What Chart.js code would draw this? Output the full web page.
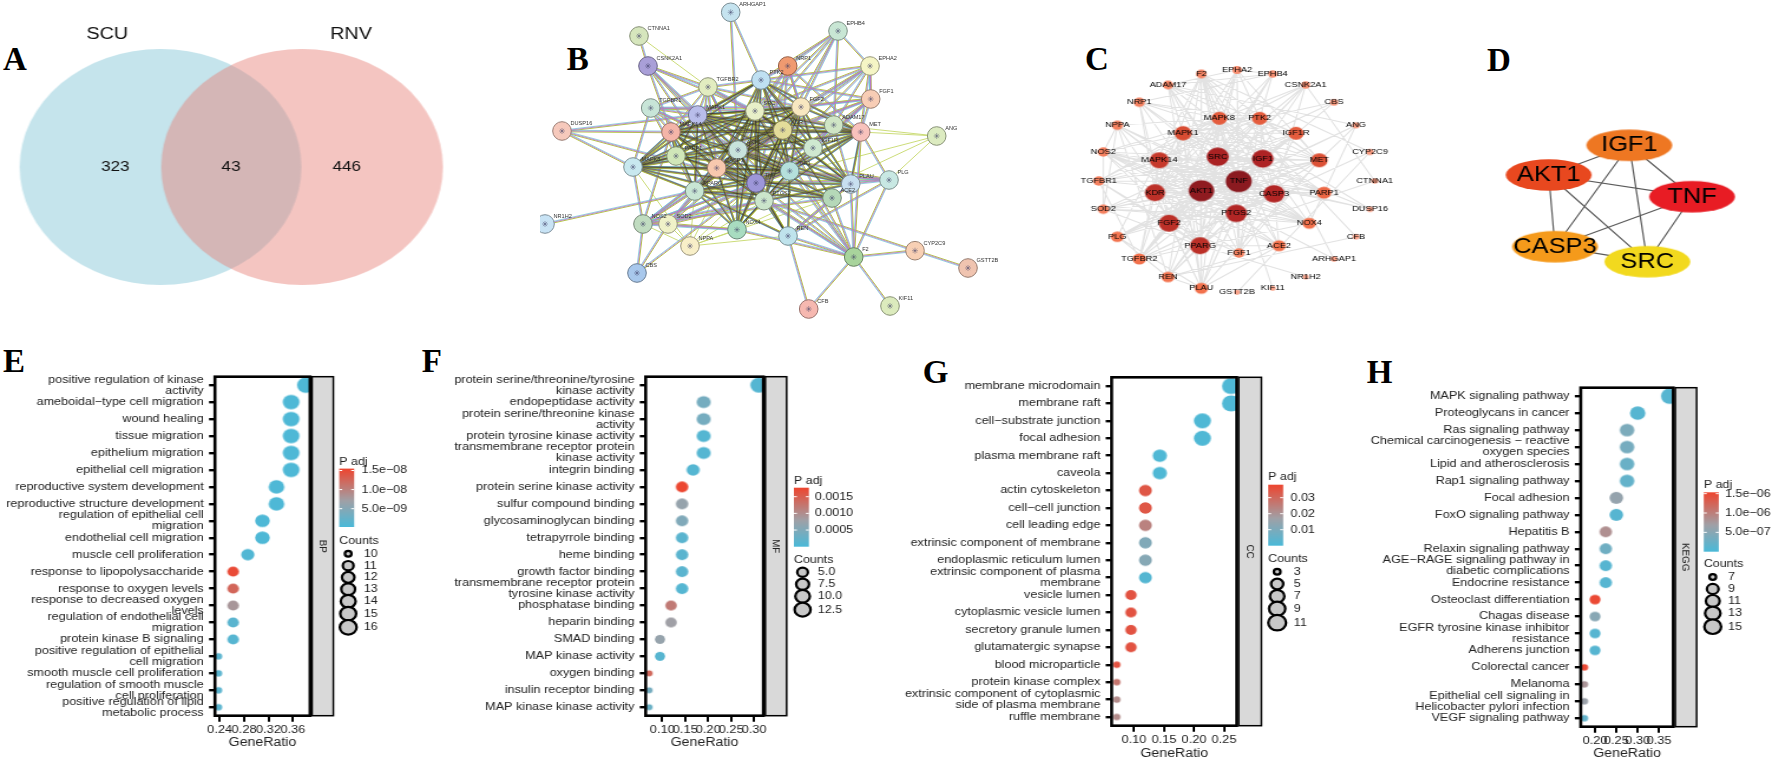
<!DOCTYPE html>
<html>
<head>
<meta charset="utf-8">
<title>PPI network and enrichment panels</title>
<script src="https://cdn.jsdelivr.net/npm/chart.js@4"></script>
<style>
  html, body { margin: 0; width: 1772px; height: 760px; overflow: hidden; background: #fff; }
  canvas { position: absolute; }
  .letter { position: absolute; font: bold 33px/1 "Liberation Serif", serif; color: #000; }
</style>
</head>
<body>
<div class="letter" style="left:3px;top:43.4px">A</div>
<div class="letter" style="left:566.7px;top:43.4px">B</div>
<div class="letter" style="left:1085px;top:43.4px">C</div>
<div class="letter" style="left:1487px;top:44.4px">D</div>
<div class="letter" style="left:3px;top:345.4px">E</div>
<div class="letter" style="left:421.7px;top:345.4px">F</div>
<div class="letter" style="left:922.7px;top:356.4px">G</div>
<div class="letter" style="left:1366.7px;top:356.4px">H</div>
<script>
// ---- Venn (A)
const vennSets = ["SCU", "RNV"];
const vennCounts = [323, 43, 446];

// ---- PPI network (B, C): every array follows the order of ppiNames
const ppiNames = ["TNF", "AKT1", "SRC", "IGF1", "CASP3", "PTGS2", "KDR", "FGF2", "PPARG", "MAPK14", "MAPK1", "MET", "MAPK8", "PTK2", "IGF1R", "PARP1", "NOX4", "ACE2", "PLAU", "REN", "TGFBR2", "PLG", "FGF1", "NRP1", "NPPA", "NOS2", "TGFBR1", "SOD2", "F2", "ADAM17", "EPHA2", "EPHB4", "CSNK2A1", "CBS", "ANG", "CYP2C9", "CTNNA1", "DUSP16", "CFB", "ARHGAP1", "NR1H2", "KIF11", "GSTT2B"];
const ppiLinks = [
  "TNF AKT1 SRC IGF1 CASP3 PTGS2 KDR FGF2 PPARG MAPK14 MAPK1 MET MAPK8 PTK2 IGF1R PARP1 NOX4 ACE2 PLAU REN TGFBR2 PLG FGF1 NOS2 TGFBR1 SOD2 F2 ADAM17 NRP1 EPHA2 CSNK2A1 CBS DUSP16",
  "AKT1 SRC IGF1 CASP3 PTGS2 KDR FGF2 PPARG MAPK14 MAPK1 MET MAPK8 PTK2 IGF1R PARP1 NOX4 ACE2 PLAU REN TGFBR2 PLG FGF1 NOS2 TGFBR1 SOD2 F2 ADAM17 NRP1 EPHA2 EPHB4 CSNK2A1 ARHGAP1",
  "SRC IGF1 CASP3 PTGS2 KDR FGF2 PPARG MAPK14 MAPK1 MET MAPK8 PTK2 IGF1R PARP1 NOX4 PLAU TGFBR2 FGF1 TGFBR1 F2 ADAM17 NRP1 EPHA2 EPHB4 CSNK2A1",
  "IGF1 CASP3 PTGS2 KDR FGF2 PPARG MAPK14 MAPK1 MET MAPK8 PTK2 IGF1R PARP1 NOX4 PLAU REN PLG FGF1 NOS2 TGFBR1 SOD2 F2 ADAM17",
  "CASP3 PTGS2 KDR FGF2 PPARG MAPK14 MAPK1 MAPK8 PTK2 PARP1 NOX4 ACE2 PLG NOS2 SOD2 F2 CSNK2A1 TGFBR2",
  "PTGS2 KDR FGF2 PPARG MAPK14 MAPK1 MET MAPK8 NOX4 PLAU REN TGFBR2 FGF1 NOS2 SOD2 F2 ADAM17 CYP2C9",
  "KDR FGF2 PPARG MAPK14 MAPK1 MET MAPK8 PTK2 IGF1R NOS2 PLAU FGF1 TGFBR2 NRP1 EPHA2 EPHB4 SOD2 NOX4 ACE2 F2",
  "FGF2 PPARG MAPK14 MAPK1 MET MAPK8 PTK2 IGF1R PLAU TGFBR2 TGFBR1 FGF1 NRP1 EPHB4 EPHA2",
  "PPARG MAPK14 MAPK1 MAPK8 NOX4 ACE2 REN NOS2 SOD2 TGFBR1 TGFBR2 NR1H2",
  "MAPK14 MAPK1 MAPK8 PTK2 MET PARP1 NOX4 TGFBR1 TGFBR2 DUSP16 CSNK2A1 NOS2",
  "MAPK1 MAPK8 PTK2 IGF1R MET PARP1 TGFBR1 TGFBR2 DUSP16 CSNK2A1 PLAU",
  "MAPK8 PTK2 PARP1 TGFBR1 DUSP16 NOS2",
  "PTK2 IGF1R MET PLAU EPHA2 EPHB4 NRP1 FGF1 ARHGAP1 TGFBR2",
  "IGF1R MET NRP1 ADAM17 FGF1",
  "MET PLAU ADAM17 EPHA2 FGF1 NRP1 F2 PLG",
  "PLAU PLG F2 REN ADAM17 ACE2",
  "F2 PLG REN CFB KIF11 CYP2C9 ACE2 NOX4",
  "REN ACE2 CFB PLG",
  "ACE2 NOS2",
  "NOS2 SOD2 NOX4 CBS",
  "SOD2 NOX4 CBS",
  "EPHA2 EPHB4 FGF1 ADAM17",
  "EPHB4 ADAM17",
  "TGFBR1 TGFBR2",
  "CSNK2A1 CTNNA1 TGFBR2",
  "CYP2C9 GSTT2B",
  "NRP1 EPHB4"
];
// Links that show only the thin text-mining colour in the STRING picture
const ppiWeakLinks = [
  "CTNNA1 TGFBR2",
  "ANG MET TNF ADAM17 PLG NOX4",
  "NPPA TNF AKT1 PTGS2 PPARG REN ACE2 NOS2 SOD2 NOX4 MAPK8"
];
const stringX = [756, 738, 755, 789.7, 716.7, 764, 782.7, 801, 694.7, 671, 697.7, 860.7, 633, 761, 813, 676, 737, 832, 850.7, 788, 708, 889, 870.7, 787.7, 690, 643, 650.7, 668, 853.7, 833.7, 870, 838, 648, 637, 936.7, 915, 639, 562, 808.7, 730.7, 545, 890, 968];
const stringY = [183, 150, 111, 171, 168, 200.7, 130, 107, 191, 132, 115, 132, 167, 80, 148, 156, 229.7, 198, 184, 236, 87, 180, 99, 66, 246, 224, 108, 224, 257, 125, 66, 31, 66, 273, 136, 250.7, 36, 131, 309, 12.3, 224, 306, 268];
const stringFill = ["#9d96d8", "#c8e3dc", "#e8f0c8", "#b5e0dc", "#f8c8ae", "#cbe5cb", "#e3dc9a", "#f8e7c0", "#c8e6d4", "#f4b5a8", "#b8bdea", "#f8c2bc", "#c8e8ef", "#bfe0f2", "#cfe8d0", "#d0e6b8", "#a8dcc0", "#b5d8b8", "#c8e0f0", "#bfe3ec", "#e2ecc0", "#c8e8e3", "#f8cdb5", "#f09a70", "#f8efc8", "#c0dcc0", "#c8e5d8", "#f0f2c8", "#a8d49c", "#cfe5c5", "#f5f5c5", "#c8e6d4", "#a99fd8", "#a8c8ec", "#dcebc0", "#f8d0b4", "#d6e6bd", "#f6c9bc", "#f6b8b0", "#c5e3ef", "#c8e3f5", "#dcebbd", "#f0c4b0"];
const cytoX = [1238.7, 1201.3, 1217.7, 1262.7, 1274, 1236.3, 1155, 1169, 1200, 1159.3, 1183, 1319.3, 1219.3, 1259.7, 1296, 1324, 1309.3, 1279, 1201.3, 1168, 1139.3, 1117.3, 1239, 1139.3, 1117.3, 1103.3, 1098.7, 1103.3, 1201.3, 1168, 1237, 1272.7, 1305.7, 1334, 1356, 1370, 1374.7, 1370, 1356, 1334, 1305.7, 1272.7, 1237];
const cytoY = [181.3, 190.7, 156.7, 158.7, 193.7, 213.3, 192.7, 223.3, 245.7, 160.3, 133.3, 160.3, 118.3, 118.3, 133.3, 192.7, 223.3, 245.7, 288.3, 277, 259, 236.7, 253, 102.3, 125.3, 152, 181, 209.3, 74, 85, 70, 74, 85, 102.3, 125.3, 152, 181, 209.3, 236.7, 259, 277, 288.3, 292.3];
const cytoDegree = [38, 37, 30, 29, 28, 28, 26, 26, 26, 24, 20, 19, 17, 17, 17, 15, 13, 13, 13, 12, 13, 12, 9, 9, 9, 9, 9, 9, 8, 8, 6, 5, 5, 4, 3, 3, 2, 2, 2, 2, 1, 1, 1];

// ---- Hub genes (D)
const hubNames = ["IGF1", "AKT1", "TNF", "CASP3", "SRC"];
const hubX = [1629.3, 1548.7, 1692, 1555, 1647.3];
const hubY = [145.3, 175, 196.7, 246.7, 261.7];
const hubFill = ["#ee7722", "#e8481f", "#e81c24", "#f59a1b", "#f2d91e"];

// ---- GO BP (E)
const bpTerms = [["positive regulation of kinase", "activity"], "ameboidal−type cell migration", "wound healing", "tissue migration", "epithelium migration", "epithelial cell migration", "reproductive system development", "reproductive structure development", ["regulation of epithelial cell", "migration"], "endothelial cell migration", "muscle cell proliferation", "response to lipopolysaccharide", "response to oxygen levels", ["response to decreased oxygen", "levels"], ["regulation of endothelial cell", "migration"], "protein kinase B signaling", ["positive regulation of epithelial", "cell migration"], "smooth muscle cell proliferation", ["regulation of smooth muscle", "cell proliferation"], ["positive regulation of lipid", "metabolic process"]];
const bpRatio = [0.381, 0.357, 0.357, 0.357, 0.357, 0.357, 0.333, 0.333, 0.31, 0.31, 0.286, 0.262, 0.262, 0.262, 0.262, 0.262, 0.238, 0.238, 0.238, 0.238];
const bpCounts = [16, 15, 15, 15, 15, 15, 14, 14, 13, 13, 12, 11, 11, 11, 11, 11, 10, 10, 10, 10];
const bpPadj = [5e-10, 5e-10, 5e-10, 5e-10, 5e-10, 5e-10, 5e-10, 5e-10, 5e-10, 5e-10, 8e-10, 1.5e-8, 1.25e-8, 8e-9, 1.5e-9, 1.2e-9, 1.5e-9, 1.5e-9, 1.5e-9, 1.5e-9];

// ---- GO MF (F)
const mfTerms = [["protein serine/threonine/tyrosine", "kinase activity"], "endopeptidase activity", ["protein serine/threonine kinase", "activity"], "protein tyrosine kinase activity", ["transmembrane receptor protein", "kinase activity"], "integrin binding", "protein serine kinase activity", "sulfur compound binding", "glycosaminoglycan binding", "tetrapyrrole binding", "heme binding", "growth factor binding", ["transmembrane receptor protein", "tyrosine kinase activity"], "phosphatase binding", "heparin binding", "SMAD binding", "MAP kinase activity", "oxygen binding", "insulin receptor binding", "MAP kinase kinase activity"];
const mfRatio = [0.31, 0.19, 0.19, 0.19, 0.19, 0.167, 0.143, 0.143, 0.143, 0.143, 0.143, 0.143, 0.143, 0.119, 0.119, 0.095, 0.095, 0.0714, 0.0714, 0.0714];
const mfCounts = [13, 8, 8, 8, 8, 7, 6, 6, 6, 6, 6, 6, 6, 5, 5, 4, 4, 3, 3, 3];
const mfPadj = [0.0001, 0.0004, 0.0004, 0.0001, 0.0001, 0.0001, 0.00175, 0.0007, 0.0005, 0.00015, 0.00015, 0.00015, 0.0001, 0.0012, 0.0008, 0.0007, 0.00012, 0.0014, 0.0004, 0.0003];

// ---- GO CC (G)
const ccTerms = ["membrane microdomain", "membrane raft", "cell−substrate junction", "focal adhesion", "plasma membrane raft", "caveola", "actin cytoskeleton", "cell−cell junction", "cell leading edge", "extrinsic component of membrane", "endoplasmic reticulum lumen", ["extrinsic component of plasma", "membrane"], "vesicle lumen", "cytoplasmic vesicle lumen", "secretory granule lumen", "glutamatergic synapse", "blood microparticle", "protein kinase complex", ["extrinsic component of cytoplasmic", "side of plasma membrane"], "ruffle membrane"];
const ccRatio = [0.262, 0.262, 0.214, 0.214, 0.143, 0.143, 0.119, 0.119, 0.119, 0.119, 0.119, 0.119, 0.095, 0.095, 0.095, 0.095, 0.0714, 0.0714, 0.0714, 0.0714];
const ccCounts = [11, 11, 9, 9, 6, 6, 5, 5, 5, 5, 5, 5, 4, 4, 4, 4, 3, 3, 3, 3];
const ccPadj = [0.001, 0.001, 0.001, 0.001, 0.001, 0.001, 0.034, 0.034, 0.024, 0.011, 0.012, 0.002, 0.035, 0.035, 0.035, 0.035, 0.035, 0.027, 0.022, 0.022];

// ---- KEGG (H)
const keggTerms = ["MAPK signaling pathway", "Proteoglycans in cancer", "Ras signaling pathway", ["Chemical carcinogenesis − reactive", "oxygen species"], "Lipid and atherosclerosis", "Rap1 signaling pathway", "Focal adhesion", "FoxO signaling pathway", "Hepatitis B", "Relaxin signaling pathway", ["AGE−RAGE signaling pathway in", "diabetic complications"], "Endocrine resistance", "Osteoclast differentiation", "Chagas disease", ["EGFR tyrosine kinase inhibitor", "resistance"], "Adherens junction", "Colorectal cancer", "Melanoma", ["Epithelial cell signaling in", "Helicobacter pylori infection"], "VEGF signaling pathway"];
const keggRatio = [0.375, 0.3, 0.275, 0.275, 0.275, 0.275, 0.25, 0.25, 0.225, 0.225, 0.225, 0.225, 0.2, 0.2, 0.2, 0.2, 0.175, 0.175, 0.175, 0.175];
const keggCounts = [15, 12, 11, 11, 11, 11, 10, 10, 9, 9, 9, 9, 8, 8, 8, 8, 7, 7, 7, 7];
const keggPadj = [1e-7, 1e-7, 4e-7, 3.5e-7, 2.5e-7, 2e-7, 6e-7, 1e-7, 8.5e-7, 3e-7, 1e-7, 1e-7, 1.5e-6, 5e-7, 1e-7, 1e-7, 1.5e-6, 8e-7, 6.5e-7, 2e-7];

Chart.defaults.animation = false;
Chart.defaults.responsive = false;
Chart.defaults.font.family = '"Liberation Sans", sans-serif';
Chart.defaults.plugins.legend.display = false;
Chart.defaults.plugins.tooltip.enabled = false;

const FONT = '"Liberation Sans", sans-serif';
// The figure was widened when it was assembled; canvases are shown wider than they draw
const STRETCH = 1.18;
const PADJ_STOPS = [[0, "#4ab9d8"], [0.45, "#a0a0a6"], [1, "#ee452f"]];
const DEGREE_STOPS = [[0, "#f9a58d"], [0.35, "#f2704a"], [0.55, "#d5472f"], [0.75, "#b02424"], [1, "#8b1a20"]];

function addCanvas(left, top, width, height, stretch) {
  const canvas = document.createElement("canvas");
  canvas.width = Math.round(width / stretch);
  canvas.height = height;
  canvas.style.left = left + "px";
  canvas.style.top = top + "px";
  canvas.style.width = width + "px";
  canvas.style.height = height + "px";
  document.body.appendChild(canvas);
  return canvas;
}

function hexToRgb(hex) {
  return [1, 3, 5].map((i) => parseInt(hex.slice(i, i + 2), 16));
}

function rampColor(stops, t) {
  t = Math.min(1, Math.max(0, t));
  for (let i = 1; i < stops.length; i++) {
    if (t <= stops[i][0]) {
      const k = (t - stops[i - 1][0]) / (stops[i][0] - stops[i - 1][0]);
      const a = hexToRgb(stops[i - 1][1]);
      const b = hexToRgb(stops[i][1]);
      return "rgb(" + a.map((v, j) => Math.round(v + (b[j] - v) * k)).join(",") + ")";
    }
  }
  return stops[stops.length - 1][1];
}

function darken(hex, k) {
  return "rgb(" + hexToRgb(hex).map((v) => Math.round(v * k)).join(",") + ")";
}

// Ellipse used as a point style; rx and ry are sizes on the page
function ovalMark(rx, ry, fill) {
  const w = rx / STRETCH;
  const canvas = document.createElement("canvas");
  canvas.width = Math.ceil(w * 2) + 2;
  canvas.height = Math.ceil(ry * 2) + 2;
  const ctx = canvas.getContext("2d");
  ctx.beginPath();
  ctx.ellipse(canvas.width / 2, canvas.height / 2, w, ry, 0, 0, Math.PI * 2);
  ctx.fillStyle = fill;
  ctx.fill();
  return canvas;
}

// Text beside or on top of the points of any dataset that has labelText
const pointText = {
  id: "pointText",
  afterDatasetsDraw(chart) {
    const ctx = chart.ctx;
    chart.data.datasets.forEach((ds, d) => {
      if (!ds.labelText) return;
      ctx.save();
      ctx.font = ds.labelFont;
      ctx.fillStyle = ds.labelColor || "#111";
      ctx.textAlign = ds.labelAlign || "center";
      ctx.textBaseline = "middle";
      chart.getDatasetMeta(d).data.forEach((pt, i) => {
        ctx.fillText(ds.labelText[i], pt.x + (ds.labelDx || 0), pt.y + (ds.labelDy || 0));
      });
      ctx.restore();
    });
  },
};
Chart.register(pointText);

function fullCanvasScales(left, top, width, height) {
  return {
    x: { type: "linear", display: false, min: left, max: left + width },
    y: { type: "linear", display: false, min: top, max: top + height, reverse: true },
  };
}

function edgePairs(lines) {
  const pairs = [];
  lines.forEach((line) => {
    const [hub, ...others] = line.split(" ");
    others.forEach((o) => pairs.push([ppiNames.indexOf(hub), ppiNames.indexOf(o)]));
  });
  return pairs;
}

// Segments of a line dataset, kept apart by NaN gaps; lane shifts them sideways
function edgeSegments(pairs, xs, ys, lane) {
  const pts = [];
  pairs.forEach(([a, b]) => {
    const dx = xs[b] - xs[a];
    const dy = ys[b] - ys[a];
    const len = Math.hypot(dx, dy) || 1;
    const ox = (-dy / len) * lane;
    const oy = (dx / len) * lane;
    pts.push({ x: xs[a] + ox, y: ys[a] + oy }, { x: xs[b] + ox, y: ys[b] + oy }, { x: NaN, y: NaN });
  });
  return pts;
}

function edgeDataset(data, color, width) {
  return { data, showLine: true, borderColor: color, borderWidth: width, pointRadius: 0, spanGaps: false };
}

// Datasets are painted last-to-first, so the topmost layer comes first in each list
function drawVenn() {
  const left = 0, top = 0, width = 500, height = 320;
  const centreX = [160.5, 302];
  new Chart(addCanvas(left, top, width, height, STRETCH), {
    type: "scatter",
    data: {
      datasets: [
        {
          data: [{ x: 107.3, y: 34.3 }, { x: 351, y: 34.3 }],
          pointRadius: 0,
          labelText: vennSets,
          labelFont: "16.8px " + FONT,
        },
        {
          data: [{ x: 115.3, y: 167.3 }, { x: 231, y: 167.3 }, { x: 346.7, y: 167.3 }],
          pointRadius: 0,
          labelText: vennCounts,
          labelFont: "14.5px " + FONT,
        },
        {
          data: [{ x: centreX[1], y: 167 }],
          pointStyle: ovalMark(141, 118, "rgba(231,126,117,0.45)"),
          pointRadius: 10,
        },
        {
          data: [{ x: centreX[0], y: 167 }],
          pointStyle: ovalMark(141, 118, "#c5e4ec"),
          pointRadius: 10,
        },
      ],
    },
    options: { scales: fullCanvasScales(left, top, width, height), layout: { autoPadding: false } },
  });
}

function drawStringNetwork() {
  const left = 540, top = 0, width = 460, height = 320;
  const pairs = edgePairs(ppiLinks);
  const weak = edgePairs(ppiWeakLinks);
  const core = pairs.filter(([a, b]) => a < 16 && b < 20);
  const lanes = [
    edgeDataset(edgeSegments(core, stringX, stringY, 0.4), "rgba(45,45,30,0.8)", 0.6),
    edgeDataset(edgeSegments(core, stringX, stringY, -0.4), "#8f9a28", 0.7),
    edgeDataset(edgeSegments(pairs, stringX, stringY, 0), "#b878c4", 0.8),
    edgeDataset(edgeSegments(pairs, stringX, stringY, 0.8), "#5fc4d4", 0.7),
    edgeDataset(edgeSegments(pairs, stringX, stringY, -0.8), "#b4c840", 1),
    edgeDataset(edgeSegments(weak, stringX, stringY, 0), "#c6d86a", 0.9),
  ];
  new Chart(addCanvas(left, top, width, height, 1), {
    type: "scatter",
    data: {
      datasets: [
        {
          data: ppiNames.map((n, i) => ({ x: stringX[i], y: stringY[i] })),
          pointStyle: "star",
          pointRadius: 3,
          pointBorderColor: "rgba(60,60,100,0.4)",
          pointBorderWidth: 1,
          labelText: ppiNames,
          labelFont: "5.6px " + FONT,
          labelColor: "#333",
          labelAlign: "left",
          labelDx: 8.5,
          labelDy: -7.7,
          clip: 0,
        },
        {
          data: ppiNames.map((n, i) => ({ x: stringX[i], y: stringY[i] })),
          pointRadius: 9.3,
          pointBackgroundColor: stringFill,
          pointBorderColor: stringFill.map((c) => darken(c, 0.62)),
          pointBorderWidth: 1,
          clip: 0,
        },
      ].concat(lanes),
    },
    options: { scales: fullCanvasScales(left, top, width, height), layout: { autoPadding: false } },
  });
}

function drawCytoscapeNetwork() {
  const left = 1060, top = 40, width = 340, height = 270;
  const marks = cytoDegree.map((d) => {
    const rx = 2.5 + 10.5 * Math.pow(d / 38, 0.85);
    return ovalMark(rx, rx * 0.83, rampColor(DEGREE_STOPS, d / 38));
  });
  new Chart(addCanvas(left, top, width, height, STRETCH), {
    type: "scatter",
    data: {
      datasets: [
        {
          data: ppiNames.map((n, i) => ({ x: cytoX[i], y: cytoY[i] })),
          pointStyle: marks,
          pointRadius: 6,
          labelText: ppiNames,
          labelFont: "7.8px " + FONT,
          labelColor: "#000",
        },
        edgeDataset(edgeSegments(edgePairs(ppiLinks.concat(ppiWeakLinks)), cytoX, cytoY, 0), "#e2e2e2", 1.1),
      ],
    },
    options: { scales: fullCanvasScales(left, top, width, height), layout: { autoPadding: false } },
  });
}

function drawHubNetwork() {
  const left = 1490, top = 110, width = 282, height = 190;
  const pairs = [];
  hubNames.forEach((a, i) => hubNames.forEach((b, j) => { if (j > i) pairs.push([i, j]); }));
  new Chart(addCanvas(left, top, width, height, STRETCH), {
    type: "scatter",
    data: {
      datasets: [
        {
          data: hubNames.map((n, i) => ({ x: hubX[i], y: hubY[i] })),
          pointStyle: hubFill.map((c) => ovalMark(43, 15.8, c)),
          pointRadius: 10,
          labelText: hubNames,
          labelFont: "21.5px " + FONT,
          labelColor: "#000",
        },
        edgeDataset(edgeSegments(pairs, hubX, hubY, 0), "#5a5a5a", 1.2),
      ],
    },
    options: { scales: fullCanvasScales(left, top, width, height), layout: { autoPadding: false } },
  });
}

function countRadius(p, c) {
  return p.rMin + (p.rMax - p.rMin) * Math.sqrt((c - p.cMin) / (p.cMax - p.cMin));
}

// Frame, facet strip and the two legends of a dot plot
function dotPanelPlugin(p) {
  const sx = STRETCH;
  return {
    id: "dotPanel",
    afterDatasetsDraw(chart) {
      const ctx = chart.ctx;
      const area = chart.chartArea;
      const ox = p.canvas[0];
      const oy = p.canvas[1];
      const stripLeft = area.right + 2 / sx;
      const stripW = p.strip / sx;
      ctx.save();
      // strip
      ctx.fillStyle = "#d9d9d9";
      ctx.strokeStyle = "#000";
      ctx.lineWidth = 1.5;
      ctx.fillRect(stripLeft, area.top, stripW, area.height);
      ctx.strokeRect(stripLeft, area.top, stripW, area.height);
      // frame
      ctx.lineWidth = 2.6;
      ctx.strokeRect(area.left, area.top, area.width, area.height);
      // strip label
      ctx.save();
      ctx.translate(stripLeft + stripW / 2, (area.top + area.bottom) / 2);
      ctx.rotate(Math.PI / 2);
      ctx.font = "9.8px " + FONT;
      ctx.fillStyle = "#222";
      ctx.textAlign = "center";
      ctx.textBaseline = "middle";
      ctx.fillText(p.stripLabel, 0, 0);
      ctx.restore();
      // colour bar
      const barX = (p.barX - ox) / sx;
      const barW = 15 / sx;
      const tickW = 3 / sx;
      const barTop = p.barTop - oy;
      const barH = p.barBottom - p.barTop;
      const grad = ctx.createLinearGradient(0, barTop + barH, 0, barTop);
      PADJ_STOPS.forEach(([t, c]) => grad.addColorStop(t, c));
      ctx.fillStyle = grad;
      ctx.fillRect(barX, barTop, barW, barH);
      ctx.font = "10.6px " + FONT;
      ctx.textBaseline = "middle";
      ctx.textAlign = "left";
      ctx.fillStyle = "#222";
      ctx.fillText("P adj", barX, p.titleY - oy);
      ctx.fillText("Counts", barX, p.countsTitleY - oy);
      p.barTicks.forEach((v, i) => {
        const y = barTop + barH - ((v - p.lo) / (p.hi - p.lo)) * barH;
        ctx.fillStyle = "#fff";
        ctx.fillRect(barX, y - 0.5, tickW, 1);
        ctx.fillRect(barX + barW - tickW, y - 0.5, tickW, 1);
        ctx.fillStyle = "#222";
        ctx.fillText(p.barLabels[i], (p.barLabelX - ox) / sx, y);
      });
      // size legend
      p.legendCounts.forEach((c, i) => {
        const r = countRadius(p, c) - 0.4;
        const cx = (p.legendX - ox) / sx;
        ctx.beginPath();
        ctx.ellipse(cx, p.legendY[i] - oy, r / sx, r * 0.87, 0, 0, Math.PI * 2);
        ctx.fillStyle = "#c8c8c8";
        ctx.fill();
        ctx.strokeStyle = "#000";
        ctx.lineWidth = 2.2;
        ctx.stroke();
        ctx.fillStyle = "#222";
        ctx.fillText(p.legendLabels[i], (p.legendLabelX - ox) / sx, p.legendY[i] - oy);
      });
      ctx.restore();
    },
  };
}

function drawDotPanel(p) {
  const [cx, cy, cw, ch] = p.canvas;
  const sx = STRETCH;
  const marks = p.counts.map((c, i) => {
    const r = countRadius(p, c);
    return ovalMark(r, r * 0.87, rampColor(PADJ_STOPS, (p.padj[i] - p.lo) / (p.hi - p.lo)));
  });
  new Chart(addCanvas(cx, cy, cw, ch, sx), {
    type: "scatter",
    data: {
      datasets: [
        {
          data: p.ratio.map((v, i) => ({ x: v, y: i })),
          pointStyle: marks,
          pointRadius: 6,
          clip: 0,
        },
      ],
    },
    options: {
      layout: { padding: { top: p.frame[1] - cy, right: (cx + cw - p.frame[2]) / sx, left: 0, bottom: 0 } },
      scales: {
        x: {
          type: "linear",
          min: p.xMin,
          max: p.xMax,
          afterFit: (s) => { s.height = cy + ch - p.frame[3]; },
          afterBuildTicks: (s) => { s.ticks = p.xTicks.map((v) => ({ value: v })); },
          grid: { drawOnChartArea: false, color: "#000", lineWidth: 2, tickLength: 6 },
          border: { display: false },
          ticks: {
            autoSkip: false,
            maxRotation: 0,
            padding: 2,
            color: "#222",
            font: { size: 10.9 },
            callback: (v) => v.toFixed(2),
          },
          title: {
            display: true,
            text: "GeneRatio",
            color: "#222",
            font: { size: 12, lineHeight: 1.2 },
            padding: { top: 0, bottom: cy + ch - p.titleCentre - 7.2 },
          },
        },
        y: {
          type: "category",
          labels: p.terms,
          offset: true,
          afterFit: (s) => { s.width = (p.frame[0] - cx) / sx; },
          grid: { drawOnChartArea: false, color: "#000", lineWidth: 2.4, tickLength: 5 },
          border: { display: false },
          ticks: {
            autoSkip: false,
            padding: 4.5,
            color: "#222",
            font: { size: 10.7, lineHeight: "11px" },
          },
        },
      },
    },
    plugins: [dotPanelPlugin(p)],
  });
}

drawVenn();
drawStringNetwork();
drawCytoscapeNetwork();
drawHubNetwork();

drawDotPanel({
  canvas: [0, 340, 440, 440], frame: [215, 376.7, 310, 715.7], strip: 21.3, stripLabel: "BP",
  xMin: 0.2323, xMax: 0.388, xTicks: [0.24, 0.28, 0.32, 0.36], titleCentre: 742.7,
  terms: bpTerms, ratio: bpRatio, counts: bpCounts, padj: bpPadj,
  lo: 2e-10, hi: 1.55e-8, cMin: 10, cMax: 16, rMin: 3.7, rMax: 8.8,
  barX: 339.3, barTop: 468.6, barBottom: 527, barLabelX: 361.7, titleY: 462, countsTitleY: 540.7,
  barTicks: [1.5e-8, 1e-8, 5e-9], barLabels: ["1.5e−08", "1.0e−08", "5.0e−09"],
  legendX: 348.3, legendLabelX: 364, legendY: [553.7, 565.7, 577.3, 589.3, 601.3, 613.7, 627.3],
  legendCounts: [10, 11, 12, 13, 14, 15, 16], legendLabels: ["10", "11", "12", "13", "14", "15", "16"],
});
drawDotPanel({
  canvas: [440, 340, 440, 440], frame: [645.7, 376.7, 763.3, 715.7], strip: 21.3, stripLabel: "MF",
  xMin: 0.0638, xMax: 0.32, xTicks: [0.1, 0.15, 0.2, 0.25, 0.3], titleCentre: 743,
  terms: mfTerms, ratio: mfRatio, counts: mfCounts, padj: mfPadj,
  lo: 0, hi: 0.00177, cMin: 3, cMax: 13, rMin: 3.5, rMax: 8.5,
  barX: 794, barTop: 487.7, barBottom: 546.7, barLabelX: 815, titleY: 481, countsTitleY: 559.7,
  barTicks: [0.0015, 0.001, 0.0005], barLabels: ["0.0015", "0.0010", "0.0005"],
  legendX: 802.7, legendLabelX: 818, legendY: [572.3, 584.3, 596.3, 609.7],
  legendCounts: [5, 7.5, 10, 12.5], legendLabels: ["5.0", "7.5", "10.0", "12.5"],
});
drawDotPanel({
  canvas: [880, 340, 440, 440], frame: [1111.7, 377.3, 1236.7, 725.7], strip: 22.7, stripLabel: "CC",
  xMin: 0.0628, xMax: 0.2712, xTicks: [0.1, 0.15, 0.2, 0.25], titleCentre: 753.3,
  terms: ccTerms, ratio: ccRatio, counts: ccCounts, padj: ccPadj,
  lo: 0, hi: 0.0381, cMin: 3, cMax: 11, rMin: 3.7, rMax: 9.3,
  barX: 1268.3, barTop: 484.7, barBottom: 545.7, barLabelX: 1290.7, titleY: 477.3, countsTitleY: 558.7,
  barTicks: [0.03, 0.02, 0.01], barLabels: ["0.03", "0.02", "0.01"],
  legendX: 1277.3, legendLabelX: 1294, legendY: [571.7, 584, 596.3, 608.7, 622.7],
  legendCounts: [3, 5, 7, 9, 11], legendLabels: ["3", "5", "7", "9", "11"],
});
drawDotPanel({
  canvas: [1320, 340, 452, 440], frame: [1580.7, 387.7, 1673.3, 726.7], strip: 21.3, stripLabel: "KEGG",
  xMin: 0.1665, xMax: 0.3835, xTicks: [0.2, 0.25, 0.3, 0.35], titleCentre: 753.3,
  terms: keggTerms, ratio: keggRatio, counts: keggCounts, padj: keggPadj,
  lo: 0, hi: 1.535e-6, cMin: 7, cMax: 15, rMin: 3.7, rMax: 8.8,
  barX: 1703.7, barTop: 492.3, barBottom: 551.7, barLabelX: 1725, titleY: 485, countsTitleY: 564,
  barTicks: [1.5e-6, 1e-6, 5e-7], barLabels: ["1.5e−06", "1.0e−06", "5.0e−07"],
  legendX: 1712.7, legendLabelX: 1728, legendY: [577, 589, 601, 613.3, 626.7],
  legendCounts: [7, 9, 11, 13, 15], legendLabels: ["7", "9", "11", "13", "15"],
});
</script>
</body>
</html>
